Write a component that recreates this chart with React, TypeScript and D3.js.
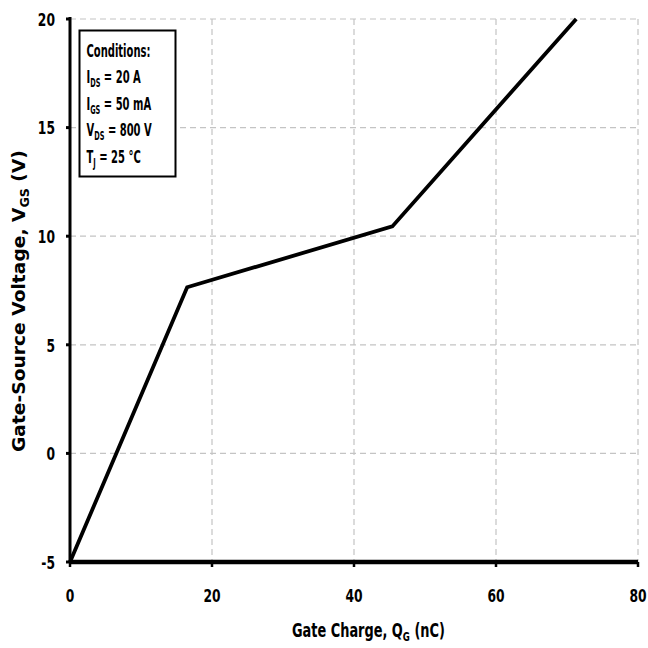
import React, { useLayoutEffect, useRef, useState } from "react";
import * as d3 from "d3";

const chargeNC = [0, 16.5, 45.4, 71.3];
const voltageV = [-5, 7.65, 10.45, 20];
const xTicks = [0, 20, 40, 60, 80];
const yTicks = [-5, 0, 5, 10, 15, 20];
const conditionLines = [
  { main: "I", sub: "DS", rest: " = 20 A" },
  { main: "I", sub: "GS", rest: " = 50 mA" },
  { main: "V", sub: "DS", rest: " = 800 V" },
  { main: "T", sub: "J", rest: " = 25 °C" },
];

const W = 648, H = 648;
const m = { left: 70, right: 10, top: 19, bottom: 86 };
const narrow = "'DejaVu Sans Condensed', 'DejaVu Sans', sans-serif";
const narrowStyle = { fontStretch: "condensed" } as React.CSSProperties;

function FitText(props: {
  x: number; y: number; width: number; rotate?: number; family: string; style?: React.CSSProperties;
  size: number; children: React.ReactNode;
}) {
  const ref = useRef<SVGTextElement>(null);
  const [s, setS] = useState(1);
  useLayoutEffect(() => {
    if (ref.current) {
      const w = ref.current.getBBox().width;
      if (w > 0) setS(props.width / w);
    }
  }, [props.width]);
  return (
    <g transform={`translate(${props.x},${props.y}) rotate(${props.rotate || 0}) scale(${s},1)`}>
      <text ref={ref} x={0} y={0} fontFamily={props.family} style={props.style} fontWeight="bold" fontSize={props.size} fill="#000">
        {props.children}
      </text>
    </g>
  );
}

export default function App() {
  const x = d3.scaleLinear().domain([0, 80]).range([m.left, W - m.right]);
  const y = d3.scaleLinear().domain([-5, 20]).range([H - m.bottom, m.top]);
  const pts = chargeNC.map((c, i) => [c, voltageV[i]] as [number, number]);
  const line = d3.line<[number, number]>().x(d => x(d[0])).y(d => y(d[1]));

  const legRef = useRef<SVGTextElement>(null);
  const [legS, setLegS] = useState(1);
  useLayoutEffect(() => {
    if (legRef.current) {
      const w = legRef.current.getBBox().width;
      if (w > 0) setLegS(64 / w);
    }
  }, []);
  const tickSx = 0.74;

  return (
    <svg width={W} height={H} style={{ position: "absolute", left: 0, top: 0, background: "#fff" }}>
      {xTicks.filter(t => t > 0).map(t => (
        <line key={"gx" + t} x1={x(t)} x2={x(t)} y1={y(20)} y2={y(-5)} stroke="#c4c4c4" strokeWidth={1.2} strokeDasharray="6,4" />
      ))}
      {yTicks.filter(t => t > -5).map(t => (
        <line key={"gy" + t} x1={x(0)} x2={x(80)} y1={y(t)} y2={y(t)} stroke="#c4c4c4" strokeWidth={1.2} strokeDasharray="6,4" />
      ))}
      <line x1={x(0)} x2={x(0)} y1={y(20) - 2} y2={y(-5)} stroke="#000" strokeWidth={3} />
      <line x1={x(0)} x2={x(80)} y1={y(-5)} y2={y(-5)} stroke="#000" strokeWidth={4.5} />
      {yTicks.map(t => (
        <line key={"ty" + t} x1={x(0) - 4} x2={x(0)} y1={y(t)} y2={y(t)} stroke="#000" strokeWidth={3} />
      ))}
      {xTicks.map(t => (
        <line key={"tx" + t} x1={x(t)} x2={x(t)} y1={y(-5)} y2={y(-5) + 5} stroke="#000" strokeWidth={2.5} />
      ))}
      {yTicks.map(t => (
        <g key={"ly" + t} transform={`translate(${x(0) - 15},${y(t)}) scale(${tickSx},1)`}>
          <text dy="0.37em" textAnchor="end" fontFamily={narrow} style={narrowStyle} fontWeight="bold" fontSize={18.5} fill="#000">{t}</text>
        </g>
      ))}
      {xTicks.map(t => (
        <g key={"lx" + t} transform={`translate(${x(t)},${y(-5) + 33}) scale(${tickSx},1)`}>
          <text dy="0.37em" textAnchor="middle" fontFamily={narrow} style={narrowStyle} fontWeight="bold" fontSize={18.5} fill="#000">{t}</text>
        </g>
      ))}
      <path d={line(pts) || ""} fill="none" stroke="#000" strokeWidth={3.8} strokeLinejoin="miter" />
      <FitText x={292} y={637} width={153} family={narrow} style={narrowStyle} size={19.5}>
        Gate Charge, Q<tspan fontSize={13} dy={4}>G</tspan><tspan dy={-4}> (nC)</tspan>
      </FitText>
      <FitText x={25} y={452} width={302} rotate={-90} family="'DejaVu Sans', sans-serif" size={18.5}>
        Gate-Source Voltage, V<tspan fontSize={12.5} dy={4}>GS</tspan><tspan dy={-4}> (V)</tspan>
      </FitText>
      <rect x={79.5} y={30.5} width={96} height={146} fill="#fff" stroke="#000" strokeWidth={2} />
      <g transform={`translate(86.5,0) scale(${legS},1)`}>
        <text ref={legRef} x={0} y={57} fontFamily={narrow} style={narrowStyle} fontWeight="bold" fontSize={17.5} fill="#000">Conditions:</text>
        {conditionLines.map((c, i) => (
          <text key={i} x={0} y={83 + i * 26.6} fontFamily={narrow} style={narrowStyle} fontWeight="bold" fontSize={17.5} fill="#000">
            {c.main}<tspan fontSize={11.5} dy={4}>{c.sub}</tspan><tspan dy={-4}>{c.rest}</tspan>
          </text>
        ))}
      </g>
    </svg>
  );
}
